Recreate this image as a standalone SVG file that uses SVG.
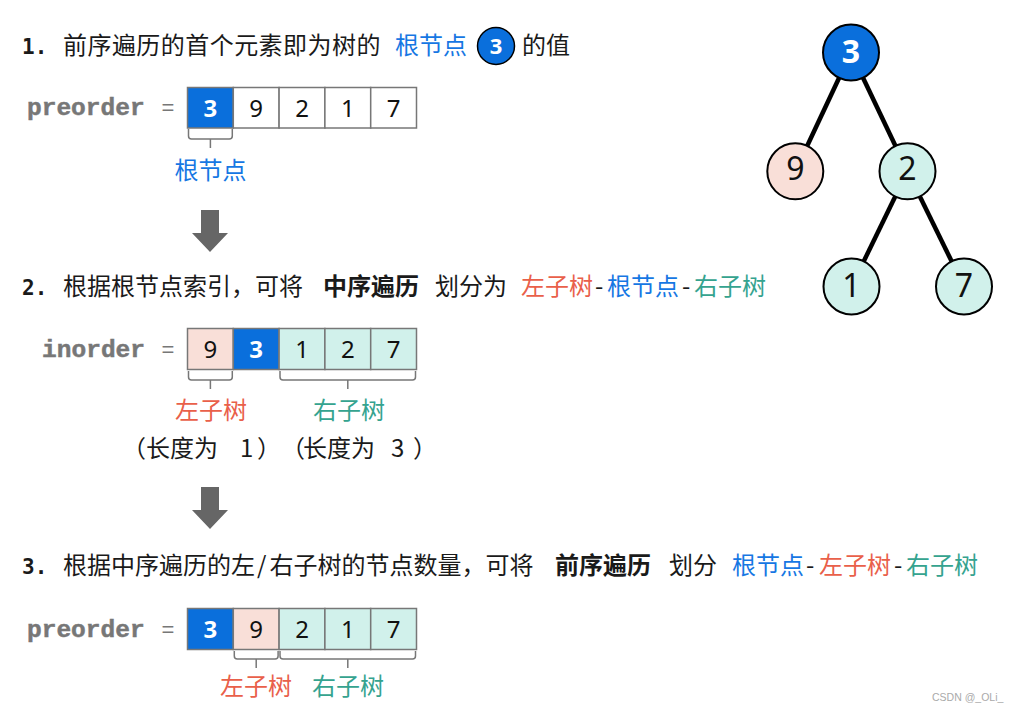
<svg xmlns="http://www.w3.org/2000/svg" width="1013" height="712" viewBox="0 0 1013 712">
<style>
.t{font-family:"Noto Sans CJK SC","Noto Sans",sans-serif;font-size:24px;fill:#1a1a1a}
.b{font-weight:bold}
.num{font-family:"DejaVu Sans Mono",monospace;font-weight:bold;font-size:21px;fill:#1a1a1a}
.var{font-family:"Liberation Mono",monospace;font-weight:bold;font-size:24.5px;fill:#777;stroke:#777;stroke-width:0.5}
.eq{font-family:"Liberation Sans",sans-serif;font-size:22px;fill:#777}
.red{fill:#e9604a}
.blue{fill:#1677e3}
.teal{fill:#35a38f}
.cell{stroke:#777;stroke-width:1.5}
.w{fill:#fff}
.pr{fill:#f9dfd8}
.gr{fill:#d1f1eb}
.bl{fill:#0a6fdc}
.d{font-family:"Noto Sans","Liberation Sans",sans-serif;font-size:24px;fill:#111;text-anchor:middle}
.dw{fill:#fff;font-weight:bold}
.brace{fill:none;stroke:#777;stroke-width:1.5}
.lbl{font-family:"Noto Sans CJK SC",sans-serif;font-size:24px;text-anchor:middle}
.arrow{fill:#666}
.edge{stroke:#000;stroke-width:4.5}
.node{stroke:#000;stroke-width:2}
.nd{font-family:"Noto Sans","Liberation Sans",sans-serif;font-size:32px;fill:#111;text-anchor:middle}
</style>

<!-- Line 1 -->
<g id="line1">
<text class="num" x="22" y="54">1.</text>
<text class="t" x="63" y="54" letter-spacing="0.45">前序遍历的首个元素即为树的</text>
<text class="t blue" x="395" y="54">根节点</text>
<circle cx="496" cy="46" r="18.5" fill="#0a6fdc" stroke="#000" stroke-width="1.5"/>
<text x="496" y="54" font-family="Noto Sans, sans-serif" font-size="22" font-weight="bold" fill="#fff" text-anchor="middle">3</text>
<text class="t" x="522" y="54">的值</text>
</g>

<!-- Array 1 -->
<g id="preorder1">
<text class="var" x="27" y="115">preorder</text>
<text class="eq" x="168" y="115" text-anchor="middle">=</text>
<rect class="cell bl" x="187.5" y="87.5" width="45.8" height="40.5"/>
<rect class="cell w" x="233.3" y="87.5" width="45.8" height="40.5"/>
<rect class="cell w" x="279.1" y="87.5" width="45.8" height="40.5"/>
<rect class="cell w" x="324.9" y="87.5" width="45.8" height="40.5"/>
<rect class="cell w" x="370.7" y="87.5" width="45.8" height="40.5"/>
<text class="d dw" x="210.4" y="116.5">3</text>
<text class="d" x="256.2" y="116.5">9</text>
<text class="d" x="302" y="116.5">2</text>
<text class="d" x="347.8" y="116.5">1</text>
<text class="d" x="393.6" y="116.5">7</text>
<path class="brace" d="M188.5,129 V136 Q188.5,139 191.5,139 H229.3 Q232.3,139 232.3,136 V129 M210.4,139 V148"/>
<text class="lbl blue" x="210.4" y="179">根节点</text>
</g>

<g id="arrow1"><path class="arrow" d="M201,210 H219 V233 H228 L210,252 L192,233 H201 Z"/></g>

<!-- Line 2 -->
<g id="line2">
<text class="num" x="22" y="295">2.</text>
<text class="t" x="63" y="295">根据根节点索引，可将</text>
<text class="t b" x="323" y="295">中序遍历</text>
<text class="t" x="435" y="295">划分为</text>
<text class="t red" x="521" y="295">左子树</text>
<text class="t" x="595" y="295">-</text>
<text class="t blue" x="607" y="295">根节点</text>
<text class="t" x="682" y="295">-</text>
<text class="t teal" x="694" y="295">右子树</text>
</g>

<!-- Array 2 -->
<g id="inorder">
<text class="var" x="145" y="356.5" text-anchor="end">inorder</text>
<text class="eq" x="168" y="356.5" text-anchor="middle">=</text>
<rect class="cell pr" x="187.5" y="328.5" width="45.8" height="41"/>
<rect class="cell bl" x="233.3" y="328.5" width="45.8" height="41"/>
<rect class="cell gr" x="279.1" y="328.5" width="45.8" height="41"/>
<rect class="cell gr" x="324.9" y="328.5" width="45.8" height="41"/>
<rect class="cell gr" x="370.7" y="328.5" width="45.8" height="41"/>
<text class="d" x="210.4" y="357.5">9</text>
<text class="d dw" x="256.2" y="357.5">3</text>
<text class="d" x="302" y="357.5">1</text>
<text class="d" x="347.8" y="357.5">2</text>
<text class="d" x="393.6" y="357.5">7</text>
<path class="brace" d="M188.5,371 V377 Q188.5,380 191.5,380 H229.3 Q232.3,380 232.3,377 V371 M210.4,380 V389"/>
<path class="brace" d="M280,371 V377 Q280,380 283,380 H412.5 Q415.5,380 415.5,377 V371 M347.8,380 V389"/>
<text class="lbl red" x="211" y="419">左子树</text>
<text class="lbl teal" x="349" y="419">右子树</text>
<text class="t" x="122" y="457">（<tspan x="146">长度为</tspan><tspan x="240">1</tspan><tspan x="257">）</tspan><tspan x="281">（</tspan><tspan x="303">长度为</tspan><tspan x="391">3</tspan><tspan x="413">）</tspan></text>
</g>

<g id="arrow2"><path class="arrow" d="M201,487 H219 V510 H228 L210,529 L192,510 H201 Z"/></g>

<!-- Line 3 -->
<g id="line3">
<text class="num" x="22" y="574">3.</text>
<text class="t" x="63" y="574">根据中序遍历的左<tspan dx="2">/</tspan><tspan dx="3">右子树的节点数量，可将</tspan></text>
<text class="t b" x="555" y="574">前序遍历</text>
<text class="t" x="669" y="574">划分</text>
<text class="t blue" x="732" y="574">根节点</text>
<text class="t" x="806" y="574">-</text>
<text class="t red" x="819" y="574">左子树</text>
<text class="t" x="894" y="574">-</text>
<text class="t teal" x="906" y="574">右子树</text>
</g>

<!-- Array 3 -->
<g id="preorder2">
<text class="var" x="27" y="636.5">preorder</text>
<text class="eq" x="168" y="636.5" text-anchor="middle">=</text>
<rect class="cell bl" x="187.5" y="608.5" width="45.8" height="41"/>
<rect class="cell pr" x="233.3" y="608.5" width="45.8" height="41"/>
<rect class="cell gr" x="279.1" y="608.5" width="45.8" height="41"/>
<rect class="cell gr" x="324.9" y="608.5" width="45.8" height="41"/>
<rect class="cell gr" x="370.7" y="608.5" width="45.8" height="41"/>
<text class="d dw" x="210.4" y="637.5">3</text>
<text class="d" x="256.2" y="637.5">9</text>
<text class="d" x="302" y="637.5">2</text>
<text class="d" x="347.8" y="637.5">1</text>
<text class="d" x="393.6" y="637.5">7</text>
<path class="brace" d="M234.3,651 V656 Q234.3,659 237.3,659 H275.1 Q278.1,659 278.1,656 V651 M256.2,659 V668"/>
<path class="brace" d="M280,651 V656 Q280,659 283,659 H412.5 Q415.5,659 415.5,656 V651 M347.8,659 V668"/>
<text class="lbl red" x="256" y="695">左子树</text>
<text class="lbl teal" x="348" y="695">右子树</text>
</g>

<!-- Tree -->
<g id="connectors">
<line class="edge" x1="851" y1="52.5" x2="795.3" y2="171.3"/>
<line class="edge" x1="851" y1="52.5" x2="907.5" y2="171.3"/>
<line class="edge" x1="907.5" y1="171.3" x2="851.5" y2="286.5"/>
<line class="edge" x1="907.5" y1="171.3" x2="964" y2="286.5"/>
</g>
<g id="node3"><circle class="node" cx="851" cy="52.5" r="28" fill="#0a6fdc"/><text class="nd" x="851" y="63" font-weight="bold" style="fill:#fff">3</text></g>
<g id="node9"><circle class="node" cx="795.3" cy="171.3" r="28" fill="#f9dfd8"/><text class="nd" x="795.3" y="180">9</text></g>
<g id="node2"><circle class="node" cx="907.5" cy="171.3" r="28" fill="#d1f1eb"/><text class="nd" x="907.5" y="180">2</text></g>
<g id="node1"><circle class="node" cx="851.5" cy="286.5" r="28" fill="#d1f1eb"/><text class="nd" x="851.5" y="296.5">1</text></g>
<g id="node7"><circle class="node" cx="964" cy="286.5" r="28" fill="#d1f1eb"/><text class="nd" x="964" y="296.5">7</text></g>

<text x="932" y="701" font-family="Liberation Sans, sans-serif" font-size="10.5" fill="#aaa">CSDN @_OLi_</text>
</svg>
